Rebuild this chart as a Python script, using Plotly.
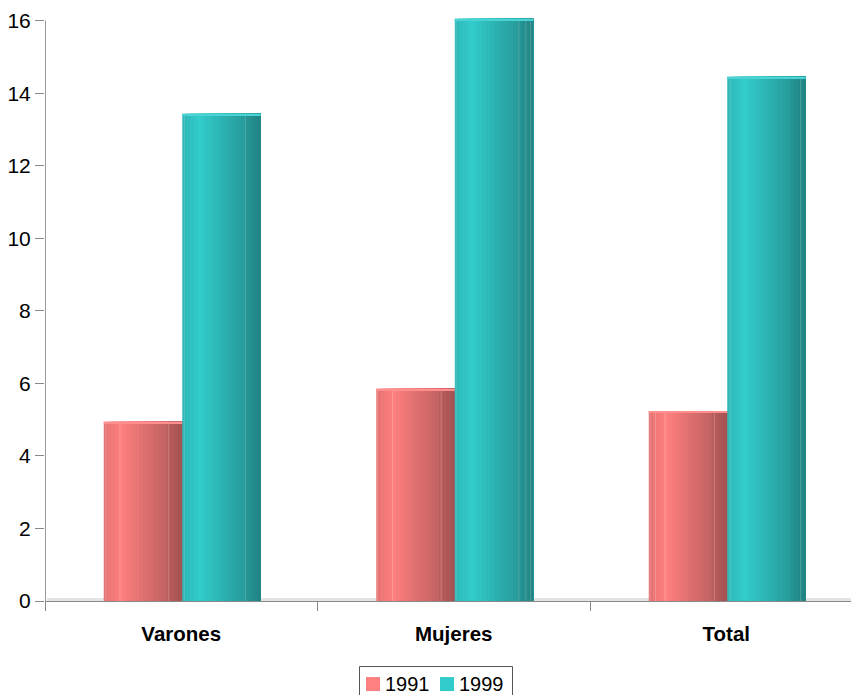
import numpy as np
import plotly.graph_objects as go

categories = ["Varones", "Mujeres", "Total"]
values_1991 = [4.94, 5.85, 5.24]
values_1999 = [13.43, 16.05, 14.45]
series_names = ["1991", "1999"]
y_ticks = [0, 2, 4, 6, 8, 10, 12, 14, 16]

PINK = (255, 128, 128)
TEAL = (51, 204, 204)
W, H = 851, 695
PX_PER_UNIT = 36.25
Y_TOP = 16.1
ML, MR, MB = 45, 0, 94
MT = 21 - (Y_TOP - 16) * PX_PER_UNIT
CAT_PX = 272.5
BAR_W = 78.5 / CAT_PX
SHIFT = 1.0 / CAT_PX
N = 20
SEAMS_1991 = [[0.02, 0.2, 0.82], [0.01, 0.2, 0.82], [0.01, 0.08, 0.2, 0.83]]
SEAMS_1999 = [[0.02, 0.8], [0.01, 0.81, 0.9, 0.96], [0.03, 0.93]]

def rgb(c):
    return "rgb(%d,%d,%d)" % tuple(int(min(255, round(v))) for v in c)

def shade(base, t):
    f = np.interp(t, [0, 0.05, 0.22, 0.5, 0.8, 0.83, 1.0], [0.88, 0.92, 1.0, 0.88, 0.76, 0.72, 0.64])
    return rgb(np.array(base, dtype=float) * f)

def cylinder(values, base, start, name):
    # each band runs to the bar's right edge and the next band paints over it
    xs, ys, offs, wids, cols = [], [], [], [], []
    w = BAR_W / N
    for cat, v in zip(categories, values):
        for i in range(N):
            xs.append(cat)
            ys.append(v)
            offs.append(start + i * w)
            wids.append(BAR_W - i * w)
            cols.append(shade(base, (i + 0.5) / N))
    return go.Bar(x=xs, y=ys, offset=offs, width=wids, name=name,
                  marker=dict(color=cols, line=dict(width=0)), cliponaxis=False,
                  showlegend=False, hovertemplate="%{x}: %{y}<extra>" + name + "</extra>")

def seams(values, seam_lists, start):
    xs, ys, offs = [], [], []
    for cat, v, lst in zip(categories, values, seam_lists):
        for s in lst:
            xs.append(cat)
            ys.append(v)
            offs.append(start + s * BAR_W)
    return go.Bar(x=xs, y=ys, offset=offs, width=[1.0 / CAT_PX] * len(xs), cliponaxis=False,
                  showlegend=False, hoverinfo="skip",
                  marker=dict(color="rgba(255,255,255,0.2)", line=dict(width=0)))

def cap(values, base, start):
    thick = 0.05
    c = np.array(base, dtype=float)
    return go.Bar(x=categories, y=[thick] * 3, base=[v - thick for v in values],
                  offset=start, width=BAR_W, cliponaxis=False, showlegend=False,
                  hoverinfo="skip", marker=dict(color=rgb(c + (255 - c) * 0.12), line=dict(width=0)))

fig = go.Figure()
fig.add_trace(cylinder(values_1991, PINK, SHIFT - BAR_W, series_names[0]))
fig.add_trace(seams(values_1991, SEAMS_1991, SHIFT - BAR_W))
fig.add_trace(cap(values_1991, PINK, SHIFT - BAR_W))
fig.add_trace(cylinder(values_1999, TEAL, SHIFT, series_names[1]))
fig.add_trace(seams(values_1999, SEAMS_1999, SHIFT))
fig.add_trace(cap(values_1999, TEAL, SHIFT))

plot_w = W - ML - MR
plot_h = H - MT - MB
px = lambda x: (x - ML) / plot_w
py = lambda y: 1 - (y - MT) / plot_h

shapes = [
    # y axis line stops at the top tick, while the tallest bar rises slightly above it
    dict(type="line", xref="paper", yref="y", x0=px(45.5), x1=px(45.5), y0=0, y1=16,
         line=dict(color="#999999", width=1)),
    # faint ground shadow along the axis
    dict(type="rect", xref="paper", yref="paper", x0=px(47), x1=px(851), y0=py(601), y1=py(598),
         fillcolor="#e4e4e4", line_width=0, layer="below"),
    # legend frame (runs past the bottom edge of the page)
    dict(type="rect", xref="paper", yref="paper", x0=px(359.5), x1=px(512.5), y0=py(666.5), y1=py(705),
         fillcolor="white", line=dict(color="#555555", width=1)),
    dict(type="rect", xref="paper", yref="paper", x0=px(366), x1=px(380), y0=py(677), y1=py(691),
         fillcolor=rgb(PINK), line_width=0),
    dict(type="rect", xref="paper", yref="paper", x0=px(440), x1=px(454), y0=py(677), y1=py(691),
         fillcolor=rgb(TEAL), line_width=0),
]
annotations = [
    dict(text=series_names[0], xref="paper", yref="paper", x=px(384), y=py(683.5), xanchor="left",
         yanchor="middle", showarrow=False, borderpad=0, font=dict(size=20, color="black")),
    dict(text=series_names[1], xref="paper", yref="paper", x=px(458), y=py(683.5), xanchor="left",
         yanchor="middle", showarrow=False, borderpad=0, font=dict(size=20, color="black")),
]

fig.update_layout(
    width=W, height=H, autosize=False,
    margin=dict(l=ML, r=MR, t=MT, b=MB, pad=0),
    paper_bgcolor="white", plot_bgcolor="white",
    barmode="overlay", showlegend=False,
    font=dict(family="Liberation Sans, Arial, sans-serif", size=20, color="black"),
    shapes=shapes, annotations=annotations,
    xaxis=dict(type="category", range=[-0.5, -0.5 + plot_w / CAT_PX],
               tickson="boundaries", ticks="outside", ticklen=9, tickcolor="#888888", tickwidth=1,
               showline=True, linecolor="#888888", linewidth=1, showgrid=False, zeroline=False,
               tickfont=dict(size=20.5, color="black", family="Liberation Sans, Arial, sans-serif", weight="bold"),
               ticklabelstandoff=14),
    yaxis=dict(range=[0, Y_TOP], tickvals=y_ticks, ticks="outside", ticklen=9, tickcolor="#888888",
               tickwidth=1, showline=False, showgrid=False,
               zeroline=False, tickfont=dict(size=21, color="black")),
)
fig.write_html("out.html", config=dict(displayModeBar=False),
               post_script="document.body.style.margin='0';document.body.style.overflow='hidden';")
